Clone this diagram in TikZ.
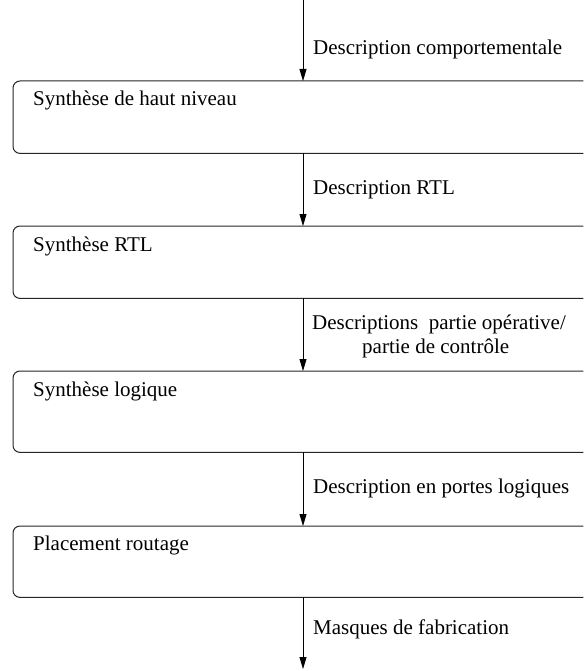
\documentclass[tikz,border=0pt]{standalone}
\usepackage{fontspec}
\setmainfont{Liberation Serif}
\usetikzlibrary{arrows.meta}

\begin{document}
\begin{tikzpicture}[x=1pt,y=-1pt,
  stagebox/.style={rectangle,draw=none,inner sep=0pt,anchor=north west,
    minimum width=570pt},
  outline/.style={line width=1pt,draw=black!85,rounded corners=7pt},
  flow/.style={line width=0.8pt,-{Triangle[length=12pt,width=7pt]}},
  txt/.style={anchor=base west,inner sep=0pt,
    font=\fontsize{21}{24}\selectfont},
]
\useasboundingbox (0,0) rectangle (583,671);

% processing stages (open on the right side)
\node[stagebox,minimum height=72pt] (s1) at (13,81) {};
\node[stagebox,minimum height=72pt] (s2) at (13,226) {};
\node[stagebox,minimum height=81pt] (s3) at (13,371) {};
\node[stagebox,minimum height=71pt] (s4) at (13,526) {};

\foreach \s in {s1,s2,s3,s4}
  \draw[outline] (\s.north east) -- (\s.north west) -- (\s.south west) -- (\s.south east);

\node[txt] (t1) at (33,106) {Synthèse de haut niveau};
\node[txt] (t2) at (33,251) {Synthèse RTL};
\node[txt] (t3) at (33,396) {Synthèse logique};
\node[txt] (t4) at (33,550) {Placement routage};

% flow between stages
\coordinate (start) at (303,0);
\coordinate (finish) at (303,669);

\draw[flow] (start) -- (start |- s1.north);
\draw[flow] (start |- s1.south) -- (start |- s2.north);
\draw[flow] (start |- s2.south) -- (start |- s3.north);
\draw[flow] (start |- s3.south) -- (start |- s4.north);
\draw[flow] (start |- s4.south) -- (finish);

% intermediate descriptions
\node[txt] (d0) at (313,55) {Description comportementale};
\node[txt] (d1) at (313,194) {Description RTL};
\node[txt,align=left] (d2) at (312,353)
  {Descriptions\ \ partie opérative/\\\hspace*{50pt}partie de contrôle};
\node[txt] (d3) at (313,493) {Description en portes logiques};
\node[txt] (d4) at (313,634) {Masques de fabrication};
\end{tikzpicture}
\end{document}
